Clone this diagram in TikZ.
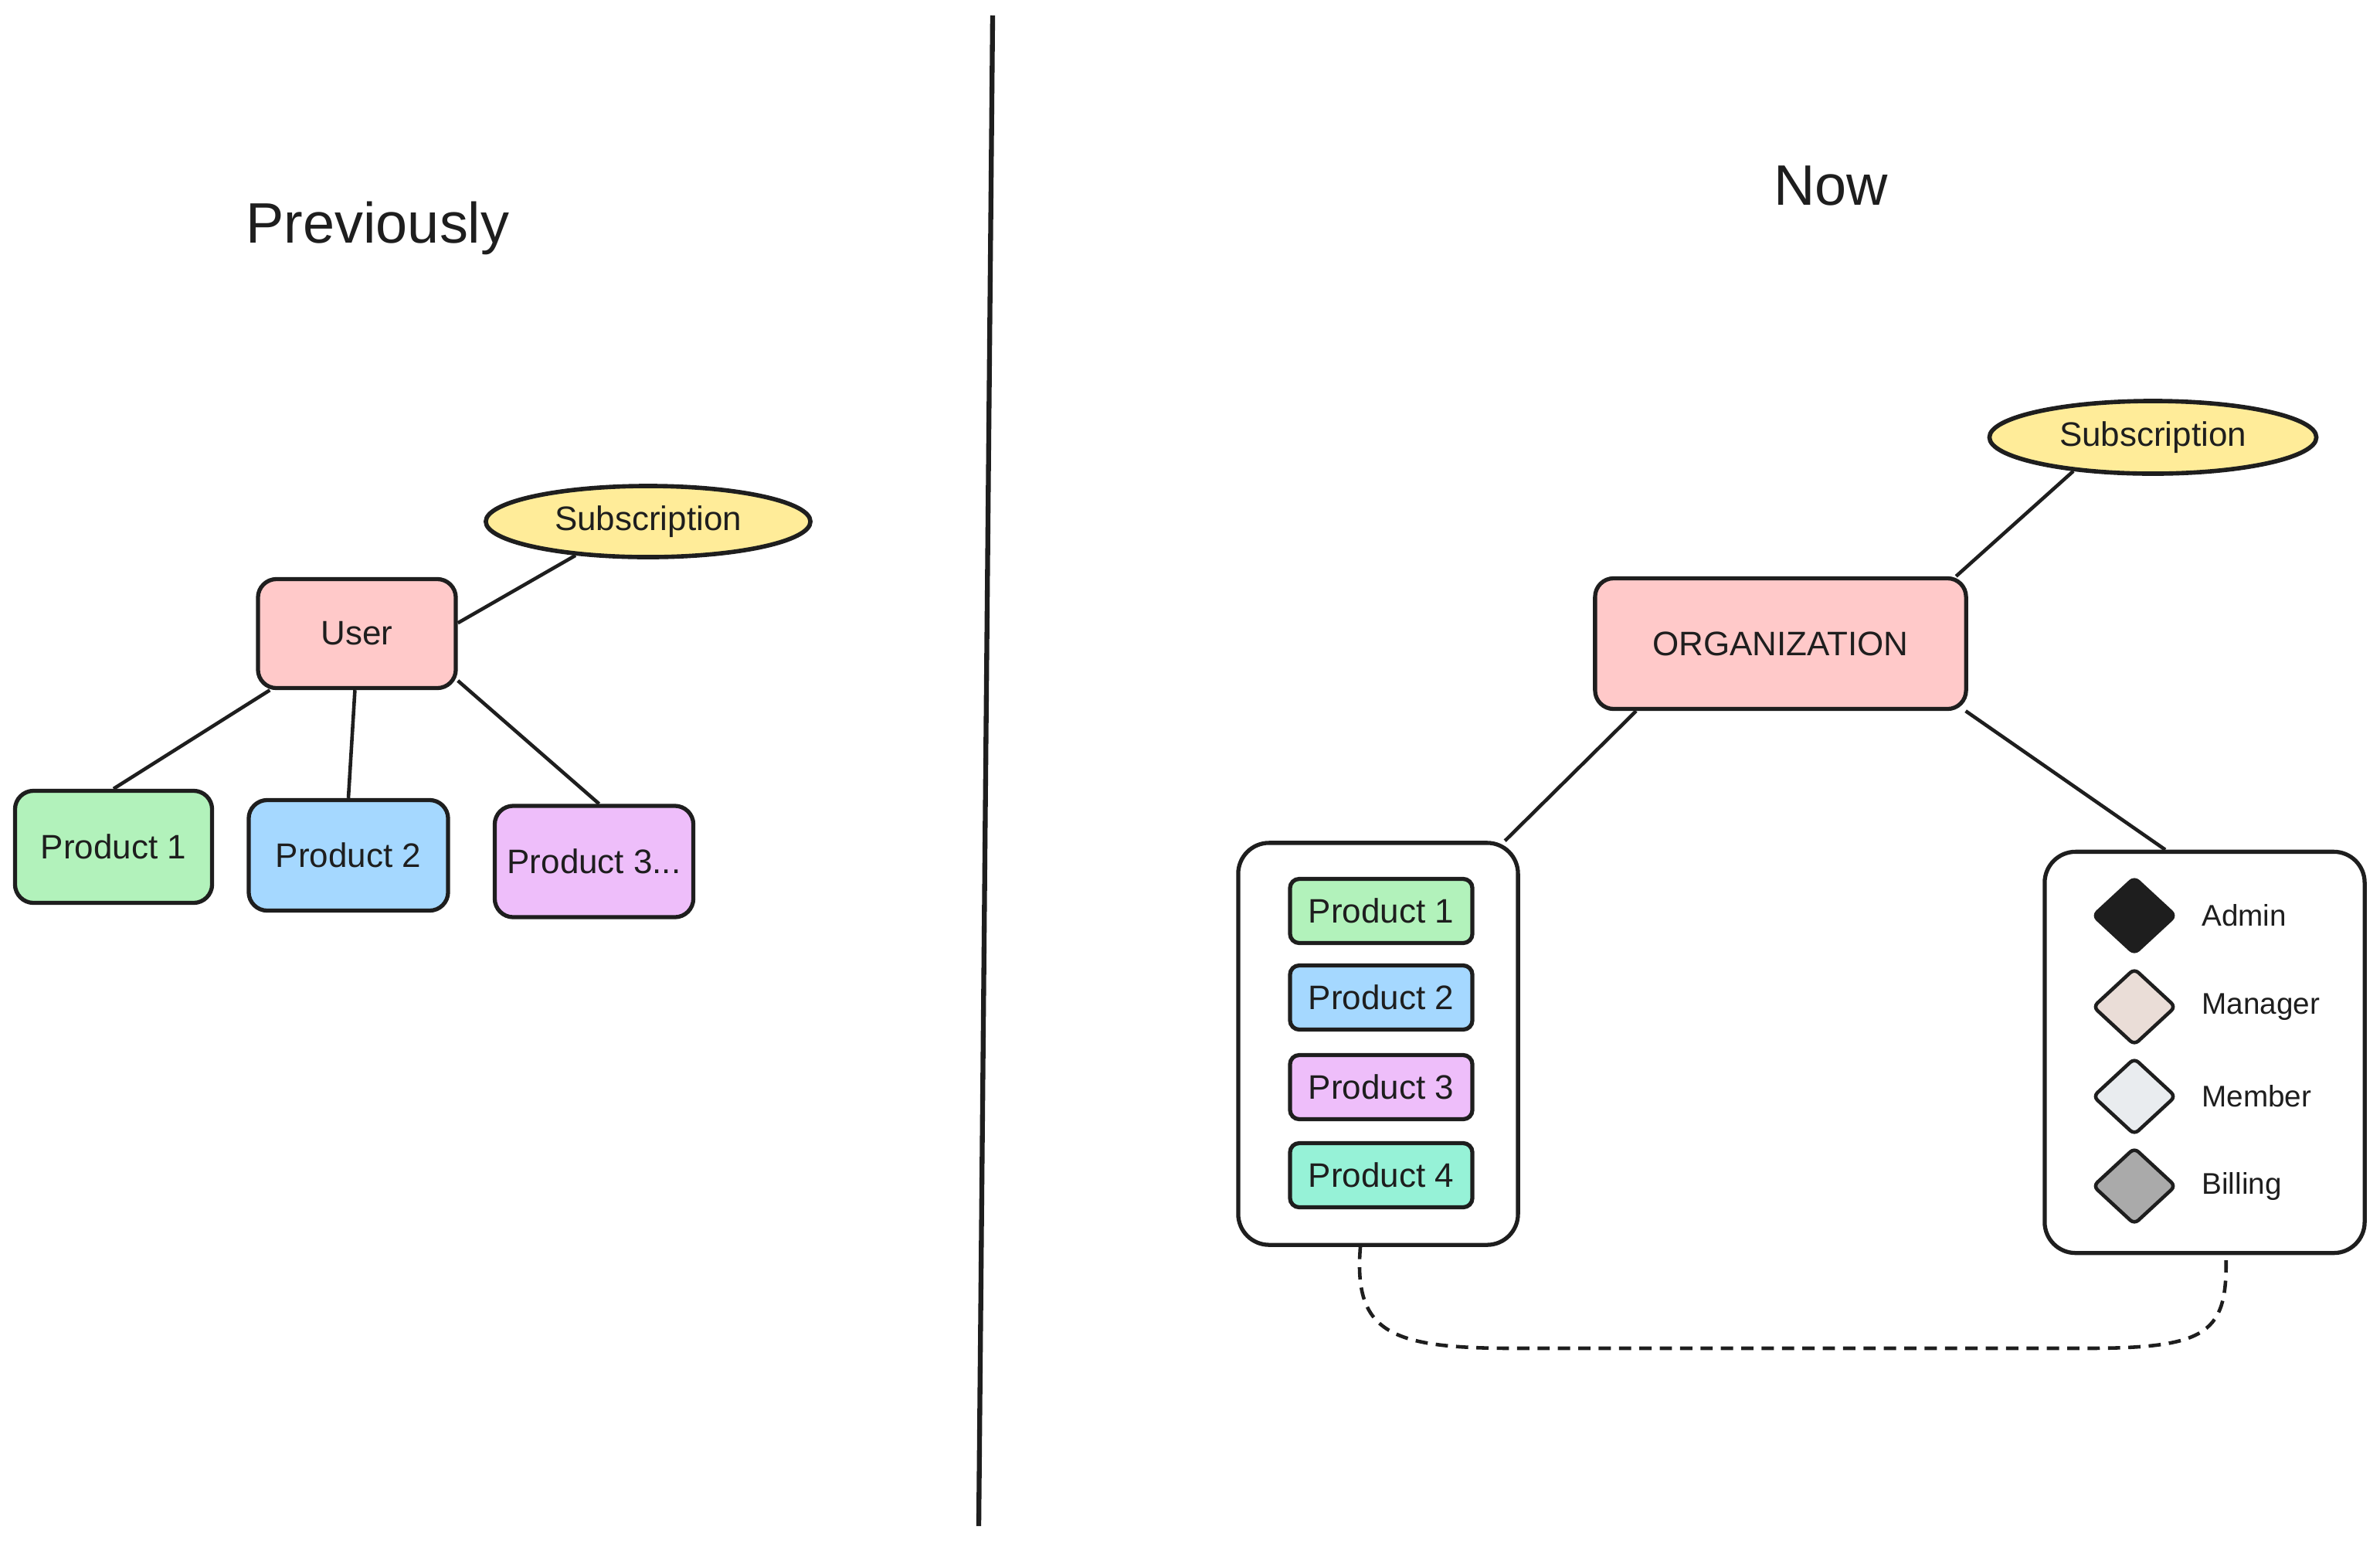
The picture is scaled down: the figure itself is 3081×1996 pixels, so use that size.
\documentclass[tikz,border=0pt]{standalone}
\usepackage{fontspec}
\setmainfont{Liberation Sans}
\usetikzlibrary{shapes.geometric}
\definecolor{ink}{HTML}{1E1E1E}
\definecolor{cgreen}{HTML}{B2F2BB}
\definecolor{cblue}{HTML}{A5D8FF}
\definecolor{cpurple}{HTML}{EEBEFA}
\definecolor{cpink}{HTML}{FFC9C9}
\definecolor{cyellow}{HTML}{FFEC99}
\definecolor{cteal}{HTML}{96F2D7}
\definecolor{cmanager}{HTML}{EADDD7}
\definecolor{cmember}{HTML}{E9ECEF}
\definecolor{cbilling}{HTML}{AAAAAA}
\begin{document}
\begin{tikzpicture}[x=0.01cm,y=-0.01cm,
  txt/.style={text=ink, font=\fontsize{12.5}{15}\selectfont},
  box/.style={txt, draw=ink, line width=1.5pt, rounded corners=0.24cm, inner sep=0pt},
  bigbox/.style={box, rounded corners=0.4cm, fill=white},
  smallbox/.style={box, rounded corners=0.12cm, minimum width=2.36cm, minimum height=0.83cm},
  oval/.style={txt, ellipse, draw=ink, line width=1.6pt, fill=cyellow, inner sep=0pt},
  role/.style={diamond, draw=ink, line width=1.3pt, rounded corners=2pt, inner sep=0pt, minimum width=1.08cm, minimum height=1.0cm},
  rolelabel/.style={text=ink, font=\fontsize{11}{13}\selectfont, anchor=west},
  title/.style={text=ink, font=\fontsize{21}{25}\selectfont},
  link/.style={draw=ink, line width=1.3pt},
  dashlink/.style={draw=ink, line width=1.3pt, dash pattern=on 4.5pt off 3pt}
]
\fill[white] (0,0) rectangle (3081,1996);
\useasboundingbox (0,0) rectangle (3081,1996);

% divider
\coordinate (dtop) at (1285,20);
\coordinate (dbot) at (1267,1975);
\draw[ink, line width=1.8pt] (dtop) -- (dbot);

% titles
\node[title] (tprev) at (489,295) {Previously};
\node[title] (tnow) at (2370,240) {Now};

% left side
\node[box, fill=cpink, minimum width=2.56cm, minimum height=1.41cm] (user) at (462,820) {User};
\node[oval, minimum width=4.2cm, minimum height=0.92cm] (sub1) at (839,675) {Subscription};
\node[box, fill=cgreen, minimum width=2.55cm, minimum height=1.45cm] (lp1) at (147,1096) {Product 1};
\node[box, fill=cblue, minimum width=2.58cm, minimum height=1.43cm] (lp2) at (451,1107) {Product 2};
\node[box, fill=cpurple, minimum width=2.57cm, minimum height=1.44cm] (lp3) at (769,1115) {Product 3...};

\draw[link] (user.6) -- (sub1.205);
\draw[link] (user.213) -- (lp1.north);
\draw[link] (user.268) -- (lp2.north);
\draw[link] (user.-25) -- (lp3.85);

% right side
\node[box, fill=cpink, minimum width=4.8cm, minimum height=1.69cm] (org) at (2305,833) {ORGANIZATION};
\node[oval, minimum width=4.23cm, minimum height=0.94cm] (sub2) at (2787,566) {Subscription};
\node[bigbox, minimum width=3.62cm, minimum height=5.2cm] (pc) at (1784,1351) {};
\node[bigbox, minimum width=4.14cm, minimum height=5.19cm] (rc) at (2854,1362) {};

\node[smallbox, fill=cgreen] (rp1) at (1788,1179) {Product 1};
\node[smallbox, fill=cblue] (rp2) at (1788,1291) {Product 2};
\node[smallbox, fill=cpurple] (rp3) at (1788,1407) {Product 3};
\node[smallbox, fill=cteal] (rp4) at (1788,1521) {Product 4};

\node[role, fill=ink] (admin) at (2763,1185) {};
\node[role, fill=cmanager] (manager) at (2763,1303) {};
\node[role, fill=cmember] (member) at (2763,1419) {};
\node[role, fill=cbilling] (billing) at (2763,1535) {};
\node[rolelabel] (ladmin) at (2838,1185) {Admin};
\node[rolelabel] (lmanager) at (2838,1303) {Manager};
\node[rolelabel] (lmember) at (2838,1419) {Member};
\node[rolelabel] (lbilling) at (2838,1535) {Billing};

\draw[link] (org.21) -- (sub2.203);
\draw[link] (org.205) -- (pc.58.5);
\draw[link] (org.-20) -- (rc.101);

\draw[dashlink] (pc.265) .. controls (1752,1725) and (1800,1745) .. (1960,1745)
  -- (2700,1745) .. controls (2860,1745) and (2884,1725) .. (rc.-84);
\end{tikzpicture}
\end{document}
